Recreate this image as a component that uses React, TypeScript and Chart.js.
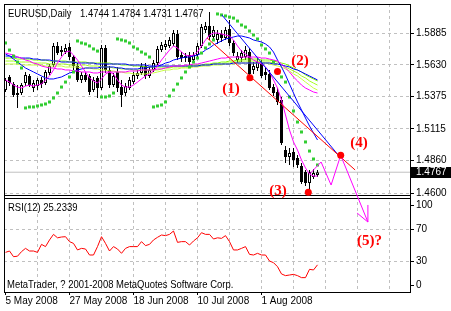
import React, { useEffect, useRef } from 'react';
import { Chart, registerables } from 'chart.js';

Chart.register(...registerables);

// ---------- text ----------
const TITLE_SYMBOL = 'EURUSD,Daily';
const TITLE_OHLC = '1.4744 1.4784 1.4731 1.4767';
const RSI_LABEL = 'RSI(12) 25.2339';
const COPYRIGHT = 'MetaTrader, ? 2001-2008 MetaQuotes Software Corp.';
const LAST_PRICE = 1.4767;

// ---------- axes ----------
const PRICE_TICKS = [1.5885, 1.563, 1.5375, 1.5115, 1.486, 1.46];
const RSI_TICKS = [0, 30, 70, 100];
const GRID_BARS = [0, 8, 16, 24, 32, 40, 48, 56, 64, 72, 80, 88, 96];
const DATE_LABEL_BARS = [0, 16, 32, 48, 64];
const DATE_LABELS = ['5 May 2008', '27 May 2008', '18 Jun 2008', '10 Jul 2008', '1 Aug 2008'];
const PRICE_MIN = 1.4576;
const PRICE_MAX = 1.6118;
const RSI_MIN = -8.75;
const RSI_MAX = 111.25;
const BAR_MIN = -0.375;
const BAR_MAX = 101.125;

// ---------- candles ----------
const OPEN = [1.5427,1.5532,1.5475,1.5403,1.5403,1.5483,1.554,1.5443,1.5459,1.5508,
1.5483,1.5564,1.5628,1.5781,1.5748,1.5732,1.5773,1.5692,1.562,1.5508,
1.5548,1.554,1.5427,1.5524,1.5443,1.5765,1.5588,1.5467,1.5572,1.5451,
1.5403,1.5443,1.5491,1.554,1.5564,1.562,1.554,1.5588,1.5644,1.5748,
1.5773,1.5781,1.5797,1.5877,1.5708,1.5684,1.5708,1.5668,1.5708,1.5781,
1.5909,1.5941,1.5853,1.5829,1.5877,1.5845,1.5917,1.5805,1.5668,1.5684,
1.5692,1.5732,1.5588,1.5604,1.5644,1.5572,1.5556,1.5451,1.5411,1.5347,
1.4945,1.4889,1.4929,1.4881,1.4817,1.4769,1.4681,1.4728,1.4744];
const HIGH = [1.5524,1.5548,1.5491,1.5467,1.5483,1.5572,1.5556,1.5508,1.5524,1.5532,
1.5588,1.5636,1.5805,1.5813,1.5781,1.5797,1.5805,1.5708,1.5644,1.5572,
1.5572,1.5556,1.5532,1.554,1.5789,1.5789,1.562,1.5564,1.5612,1.5508,
1.5483,1.5532,1.5572,1.5588,1.5644,1.5644,1.5612,1.5668,1.5781,1.5813,
1.5829,1.5853,1.5909,1.5909,1.5732,1.5724,1.5732,1.5732,1.5805,1.5957,
1.5973,1.6054,1.5941,1.5909,1.5909,1.5933,1.5989,1.5829,1.5732,1.5748,
1.5781,1.5765,1.5652,1.5684,1.5668,1.5604,1.5588,1.5475,1.5443,1.5371,
1.4978,1.4962,1.4962,1.4905,1.4841,1.4785,1.4785,1.4793,1.4784];
const LOW = [1.5411,1.5459,1.5371,1.5283,1.5387,1.5459,1.5451,1.5411,1.5427,1.5443,
1.5467,1.5548,1.5612,1.5708,1.57,1.5716,1.5668,1.5588,1.5491,1.5483,
1.5491,1.5387,1.5411,1.5363,1.5427,1.5564,1.5443,1.5451,1.5411,1.5291,
1.5379,1.5427,1.5475,1.5516,1.5548,1.5516,1.5524,1.5572,1.5628,1.5732,
1.5748,1.5765,1.5781,1.5668,1.5652,1.5652,1.5628,1.5652,1.5692,1.5765,
1.5885,1.5829,1.5829,1.5797,1.5813,1.5829,1.5781,1.57,1.5644,1.5652,
1.5668,1.5524,1.5556,1.558,1.5524,1.5508,1.5427,1.5379,1.5307,1.4986,
1.4841,1.4825,1.4809,1.4801,1.4673,1.4657,1.4608,1.4712,1.4731];
const CLOSE = [1.5508,1.5483,1.5387,1.5387,1.5467,1.5548,1.5467,1.5483,1.5508,1.5475,
1.5572,1.562,1.5781,1.5724,1.5732,1.5765,1.5692,1.562,1.5508,1.5548,
1.5508,1.5411,1.5508,1.5443,1.5765,1.5588,1.5467,1.554,1.5443,1.5387,
1.5459,1.5508,1.5548,1.5564,1.562,1.554,1.5588,1.5644,1.5757,1.5789,
1.5797,1.5829,1.5885,1.5692,1.5684,1.57,1.5652,1.5708,1.5781,1.5933,
1.5941,1.5853,1.5909,1.5877,1.5845,1.5909,1.5805,1.5724,1.57,1.5724,
1.5748,1.5556,1.562,1.5652,1.554,1.5548,1.5443,1.5403,1.5331,1.5002,
1.4889,1.4921,1.4865,1.4825,1.4689,1.4681,1.4769,1.4761,1.4767];

// ---------- indicators ----------
const MA_BLUE_SLOW = [1.57,1.57,1.5692,1.5692,1.5684,1.5684,1.5684,1.5676,1.5676,1.5668,
1.5668,1.5668,1.566,1.566,1.5652,1.5652,1.5652,1.5652,1.5644,1.5644,
1.5644,1.5644,1.5644,1.5636,1.5636,1.5636,1.5636,1.5636,1.5636,1.5636,
1.5636,1.5628,1.5628,1.5628,1.5628,1.5628,1.562,1.562,1.562,1.562,
1.562,1.562,1.562,1.562,1.562,1.562,1.562,1.562,1.562,1.5628,
1.5628,1.5628,1.5636,1.5636,1.5636,1.5636,1.5636,1.5644,1.5644,1.5644,
1.5644,1.5644,1.5644,1.5644,1.5644,1.5644,1.5644,1.5636,1.5636,1.5628,
1.562,1.5612,1.5596,1.5588,1.5572,1.5556,1.554,1.5524,1.5508];
const MA_BLUE_MID = [1.5716,1.57,1.5676,1.5652,1.5628,1.5604,1.5588,1.5572,1.5556,1.554,
1.5524,1.5516,1.5516,1.5524,1.5532,1.5548,1.5564,1.5572,1.5588,1.5596,
1.5604,1.5604,1.5604,1.5604,1.5612,1.5612,1.5612,1.5612,1.5604,1.5604,
1.5596,1.5596,1.5596,1.5596,1.5604,1.5604,1.5612,1.5612,1.562,1.5628,
1.5644,1.5652,1.5668,1.5676,1.5684,1.5692,1.5692,1.57,1.5708,1.5724,
1.5748,1.5765,1.5789,1.5805,1.5821,1.5837,1.5845,1.5853,1.5861,1.5861,
1.5853,1.5845,1.5829,1.5821,1.5813,1.5797,1.5773,1.5732,1.5668,1.5612,
1.5548,1.5475,1.5403,1.5331,1.5267,1.5202,1.5138,1.5082,1.5026];
const MA_MAGENTA_FAST = [1.5508,1.5491,1.5467,1.5451,1.5443,1.5459,1.5467,1.5459,1.5467,1.5475,
1.5508,1.554,1.5588,1.5644,1.5692,1.5732,1.574,1.5708,1.5668,1.562,
1.5572,1.5524,1.55,1.5483,1.5516,1.5556,1.5572,1.5556,1.5508,1.5467,
1.5451,1.5451,1.5467,1.5491,1.5516,1.554,1.5556,1.558,1.562,1.5668,
1.5708,1.5748,1.5781,1.5765,1.5732,1.5708,1.57,1.5708,1.5732,1.5781,
1.5829,1.5869,1.5885,1.5885,1.5877,1.5869,1.5861,1.5829,1.5781,1.574,
1.5716,1.5692,1.5668,1.5652,1.5636,1.5612,1.5572,1.5508,1.5443,1.5347,
1.5227,1.5106,1.501,1.4945,1.4865,1.4801,1.4752,1.4736,1.4736];
const MA_MAGENTA_SLOW = [1.5724,1.5716,1.5708,1.5692,1.5684,1.5668,1.566,1.5644,1.5636,1.562,
1.5612,1.5604,1.5604,1.5596,1.5596,1.5588,1.5588,1.558,1.558,1.5572,
1.5572,1.5572,1.5564,1.5564,1.5572,1.5572,1.5572,1.5572,1.5572,1.5572,
1.5572,1.558,1.558,1.558,1.5588,1.5588,1.5588,1.5588,1.5596,1.5596,
1.5604,1.5612,1.562,1.562,1.562,1.5628,1.5628,1.5636,1.5636,1.5644,
1.5652,1.566,1.5668,1.5676,1.5684,1.5684,1.5692,1.5692,1.5692,1.5692,
1.5692,1.5692,1.5692,1.5692,1.5684,1.5684,1.5676,1.5668,1.566,1.5636,
1.5604,1.5572,1.5532,1.55,1.5467,1.5443,1.5427,1.5411,1.5403];
const MA_GREEN_1 = [1.5684,1.5684,1.5684,1.5676,1.5676,1.5676,1.5676,1.5668,1.5668,1.5668,
1.5668,1.566,1.566,1.566,1.566,1.566,1.5652,1.5652,1.5652,1.5652,
1.5652,1.5644,1.5644,1.5644,1.5644,1.5644,1.5644,1.5636,1.5636,1.5628,
1.5628,1.5628,1.562,1.562,1.562,1.5612,1.5612,1.5612,1.5612,1.5612,
1.5612,1.5612,1.562,1.562,1.562,1.562,1.562,1.5628,1.5628,1.5628,
1.5636,1.5636,1.5644,1.5644,1.5652,1.5652,1.566,1.566,1.5668,1.5668,
1.5676,1.5676,1.5676,1.5676,1.5668,1.5668,1.5668,1.566,1.5652,1.5644,
1.5636,1.562,1.5604,1.5588,1.5572,1.5548,1.5532,1.5516,1.55];
const MA_GREEN_2 = [1.566,1.566,1.566,1.5652,1.5652,1.5652,1.5652,1.5644,1.5644,1.5644,
1.5644,1.5636,1.5636,1.5636,1.5636,1.5636,1.5628,1.5628,1.5628,1.5628,
1.5628,1.562,1.562,1.562,1.5612,1.5612,1.5612,1.5604,1.5604,1.5596,
1.5596,1.5596,1.5588,1.5588,1.5588,1.5588,1.5588,1.5588,1.5588,1.5596,
1.5604,1.5604,1.5612,1.5612,1.5612,1.5612,1.5612,1.562,1.562,1.562,
1.5628,1.5628,1.5636,1.5636,1.5636,1.5644,1.5644,1.5652,1.5652,1.566,
1.566,1.566,1.566,1.566,1.5652,1.5652,1.5652,1.5644,1.5636,1.5628,
1.5612,1.5596,1.558,1.5564,1.554,1.5524,1.55,1.5483,1.5467];
const MA_GREEN_3 = [1.5636,1.5636,1.5636,1.5636,1.5628,1.5628,1.5628,1.5628,1.5628,1.5628,
1.562,1.562,1.562,1.562,1.562,1.5612,1.5612,1.5612,1.5612,1.5604,
1.5604,1.5604,1.5596,1.5596,1.5588,1.5588,1.558,1.558,1.5572,1.5572,
1.5564,1.5564,1.5556,1.5556,1.5556,1.5556,1.5564,1.5564,1.5572,1.558,
1.5588,1.5588,1.5596,1.5596,1.5604,1.5604,1.5604,1.5612,1.5612,1.562,
1.562,1.562,1.5628,1.5628,1.5628,1.5636,1.5636,1.5636,1.5644,1.5644,
1.5644,1.5644,1.5644,1.5644,1.5644,1.5644,1.5636,1.5628,1.562,1.5612,
1.5596,1.558,1.5556,1.554,1.5516,1.5491,1.5467,1.5443,1.5427];
const SAR = [1.5805,1.5748,1.57,1.5652,1.5604,1.5283,1.5291,1.5291,1.5299,1.5307,
1.5315,1.5331,1.5363,1.5403,1.5451,1.5491,1.5532,1.5572,1.5821,1.5805,
1.5797,1.5781,1.5757,1.574,1.5371,1.5371,1.5379,1.5403,1.5837,1.5829,
1.5821,1.5805,1.5773,1.5757,1.5732,1.5716,1.5692,1.5291,1.5299,1.5307,
1.5331,1.5379,1.5427,1.5475,1.5524,1.5572,1.5612,1.5652,1.5684,1.5724,
1.5765,1.5797,1.5829,1.6038,1.603,1.6022,1.6013,1.6005,1.5981,1.5949,
1.5933,1.5901,1.5869,1.5837,1.5789,1.5757,1.5724,1.5652,1.5572,1.5532,
1.5491,1.5371,1.5259,1.517,1.509,1.501,1.4937,1.4873,1.4825];
const RSI = [40.8,42.5,35.4,36,41.7,45.8,42.5,42.5,40.8,50.8,
48,56.3,63.3,59,60,60.4,54.2,52,43.8,45.8,
45,37.5,37.5,48,60.4,52,42.5,48,45,39.6,
45.8,48,48,48,54.2,49.2,50.8,56.3,59.6,62.5,
61.7,63.3,67.5,53.3,54.2,54.2,50,55,59,65.4,
63.3,63.3,57.5,59,58.3,61.7,54.2,43.8,43.8,45.8,
48,38.3,37.5,39.6,37.5,37.5,30,27.9,22.9,13.8,
11.7,12.5,13.3,11.7,9.2,9.2,19.6,18.8,25.2];

// ---------- hand-drawn wave markup ----------
const RED_TREND_BARS = [50.4, 87.4];
const RED_TREND_PRICES = [1.5845, 1.4785];
const BLUE_TREND_BARS = [54.1, 83.6];
const BLUE_TREND_PRICES = [1.603, 1.4889];
const PROJ_BARS = [76, 78.9, 81.4, 83.8, 90.6];
const PROJ_PRICES = [1.4752, 1.4849, 1.4664, 1.4903, 1.4367];
const ARROW_BARS = [87.9, 90.6, 90.6];
const ARROW_PRICES = [1.4439, 1.4367, 1.4504];
const WAVE_DOT_BARS = [61.1, 68, 75.7, 83.8];
const WAVE_DOT_PRICES = [1.5526, 1.5576, 1.4606, 1.4904];
const WAVE_TEXTS = ['(1)', '(2)', '(3)', '(4)', '(5)?'];
const WAVE_TEXT_BARS = [56.4, 73.6, 68.1, 88.4, 91];
const WAVE_TEXT_PRICES = [1.5435, 1.566, 1.4616, 1.5, 1.4215];

const FONT = "'Liberation Sans', Arial, sans-serif";
const GRID = '#c0c0c0';

export default function App() {
  const ref = useRef<HTMLCanvasElement>(null);

  useEffect(() => {
    document.body.style.margin = '0';
    const canvas = ref.current;
    if (!canvas) return;
    const idx = OPEN.map((_, i) => i);
    const series = (vals: number[]) => vals.map((v, i) => ({ x: i, y: v }));
    const pairs = (xs: number[], ys: number[]) => xs.map((x, i) => ({ x, y: ys[i] }));
    const line = (label: string, data: any[], color: string, order: number, extra: any = {}) => ({
      type: 'line', label, data, borderColor: color, backgroundColor: color, borderWidth: 1,
      pointRadius: 0, fill: false, tension: 0, order, yAxisID: 'y', ...extra,
    });

    const overlay = {
      id: 'mt4Overlay',
      beforeDatasetsDraw(chart: any) {
        const { ctx, chartArea } = chart;
        const yP = chart.scales.y;
        const w = chartArea.right - chartArea.left;
        const b = Math.round(yP.bottom);
        ctx.save();
        ctx.fillStyle = '#ffffff';
        ctx.fillRect(chartArea.left, b - 1, w, 4);
        ctx.fillStyle = '#000000';
        ctx.fillRect(chartArea.left, b - 1, w, 1);
        ctx.fillRect(chartArea.left, b + 2, w, 1);
        ctx.restore();
      },
      afterDraw(chart: any) {
        const { ctx, chartArea } = chart;
        const xS = chart.scales.x;
        const yP = chart.scales.y;
        const narrow = (text: string, x: number, y: number) => {
          ctx.save();
          ctx.translate(x, y);
          ctx.scale(0.86, 1);
          ctx.fillText(text, 0, 0);
          ctx.restore();
        };
        ctx.save();
        ctx.fillStyle = '#000000';
        ctx.fillRect(chartArea.left, chartArea.top, chartArea.right - chartArea.left, 1);
        ctx.fillRect(chartArea.left, chartArea.top, 1, chartArea.bottom - chartArea.top);

        ctx.font = `11px ${FONT}`;
        ctx.textAlign = 'left';
        ctx.textBaseline = 'alphabetic';
        narrow(TITLE_SYMBOL, 8, 17);
        narrow(TITLE_OHLC, 80, 17);
        narrow(RSI_LABEL, 8, 211);
        narrow(COPYRIGHT, 7, 288);

        const py = Math.round(yP.getPixelForValue(LAST_PRICE));
        ctx.fillRect(chartArea.right + 1, py - 5, 40, 11);
        ctx.fillStyle = '#ffffff';
        ctx.font = `10px ${FONT}`;
        ctx.textBaseline = 'middle';
        ctx.fillText(LAST_PRICE.toFixed(4), chartArea.right + 6, py + 0.5);

        ctx.fillStyle = '#ff0000';
        ctx.font = "bold 15px 'Liberation Serif', 'Times New Roman', serif";
        ctx.textAlign = 'center';
        WAVE_TEXTS.forEach((t, i) => {
          ctx.fillText(t, xS.getPixelForValue(WAVE_TEXT_BARS[i]), yP.getPixelForValue(WAVE_TEXT_PRICES[i]));
        });
        ctx.restore();
      },
    };

    const chart = new Chart(canvas, {
      type: 'bar',
      data: {
        datasets: [
          line('last', [{ x: BAR_MIN, y: LAST_PRICE }, { x: BAR_MAX, y: LAST_PRICE }], '#c0c0c0', 100),
          {
            type: 'bar', label: 'wicks', data: idx.map((i) => ({ x: i, y: [LOW[i], HIGH[i]] })),
            backgroundColor: '#000000', borderWidth: 0, barThickness: 1, grouped: false,
            inflateAmount: 0, borderSkipped: false, order: 90, yAxisID: 'y',
          },
          {
            type: 'bar', label: 'bodies', data: idx.map((i) => ({ x: i, y: [OPEN[i], CLOSE[i]] })),
            backgroundColor: (c: any) => (CLOSE[c.dataIndex] >= OPEN[c.dataIndex] ? '#ffffff' : '#000000'),
            borderColor: '#000000', borderWidth: 1, barThickness: 3, grouped: false,
            inflateAmount: 0, borderSkipped: false, order: 80, yAxisID: 'y',
          },
          line('g3', series(MA_GREEN_3), '#c8ff40', 72),
          line('g2', series(MA_GREEN_2), '#a6ff1e', 71),
          line('g1', series(MA_GREEN_1), '#80ff00', 70),
          line('blueSlow', series(MA_BLUE_SLOW), '#0000ff', 66),
          line('blueMid', series(MA_BLUE_MID), '#0000ff', 65),
          line('magSlow', series(MA_MAGENTA_SLOW), '#ff00ff', 64),
          line('magFast', series(MA_MAGENTA_FAST), '#ff00ff', 63),
          line('sar', series(SAR), '#32cd32', 50, {
            showLine: false, pointStyle: 'rect', pointRadius: 2.13,
            pointBackgroundColor: '#32cd32', pointBorderWidth: 0,
          }),
          line('redTrend', pairs(RED_TREND_BARS, RED_TREND_PRICES), '#ff0000', 40),
          line('blueTrend', pairs(BLUE_TREND_BARS, BLUE_TREND_PRICES), '#0000ff', 41),
          line('projection', pairs(PROJ_BARS, PROJ_PRICES), '#ff00ff', 30, { clip: false }),
          line('arrow', pairs(ARROW_BARS, ARROW_PRICES), '#ff00ff', 30, { clip: false }),
          line('waveDots', pairs(WAVE_DOT_BARS, WAVE_DOT_PRICES), '#ff0000', 20, {
            showLine: false, pointRadius: 3.5, pointBackgroundColor: '#ff0000', pointBorderWidth: 0,
          }),
          line('rsi', series(RSI), '#ff0000', 10, { yAxisID: 'yr' }),
        ] as any,
      },
      options: {
        responsive: false,
        animation: false,
        devicePixelRatio: 1,
        events: [],
        layout: { padding: { left: 4, top: 4, right: 0, bottom: 0 } },
        plugins: { legend: { display: false }, tooltip: { enabled: false }, title: { display: false } },
        scales: {
          x: {
            type: 'linear', position: 'bottom', min: BAR_MIN, max: BAR_MAX, offset: false,
            afterBuildTicks: (s: any) => { s.ticks = GRID_BARS.map((v) => ({ value: v })); },
            afterFit: (s: any) => { s.height = 19; s.paddingLeft = 0; s.paddingRight = 0; },
            ticks: {
              autoSkip: false, maxRotation: 0, minRotation: 0, align: 'start', padding: 0,
              color: '#000000', font: { family: FONT, size: 10 },
              callback: (v: any) => {
                const k = DATE_LABEL_BARS.indexOf(Number(v));
                return k >= 0 ? DATE_LABELS[k] : '';
              },
            },
            grid: {
              color: (c: any) => (c.tick && c.tick.value === 0 ? 'rgba(0,0,0,0)' : GRID),
              lineWidth: 1, drawTicks: true, tickLength: 3, tickWidth: 1, offset: false,
              tickColor: (c: any) => (c.tick && DATE_LABEL_BARS.includes(c.tick.value) ? '#000000' : 'rgba(0,0,0,0)'),
            },
            border: { display: true, color: '#000000', width: 1, dash: [3, 3] },
          },
          y: {
            type: 'linear', position: 'right', axis: 'y', stack: 'panes', stackWeight: 2, weight: 0,
            min: PRICE_MIN, max: PRICE_MAX, beginAtZero: false, offset: false,
            afterBuildTicks: (s: any) => { s.ticks = PRICE_TICKS.map((v) => ({ value: v })); },
            afterFit: (s: any) => { s.width = 41; s.paddingTop = 0; s.paddingBottom = 0; },
            ticks: { padding: 2, color: '#000000', font: { family: FONT, size: 10 }, callback: (v: any) => Number(v).toFixed(4) },
            grid: { color: GRID, tickLength: 4, tickColor: '#000000' },
            border: { display: true, color: '#000000', width: 1, dash: [3, 3] },
          },
          yr: {
            type: 'linear', position: 'right', axis: 'y', stack: 'panes', stackWeight: 1, weight: 1,
            min: RSI_MIN, max: RSI_MAX, beginAtZero: false, offset: false,
            afterBuildTicks: (s: any) => { s.ticks = RSI_TICKS.map((v) => ({ value: v })); },
            afterFit: (s: any) => { s.width = 41; s.paddingTop = 0; s.paddingBottom = 0; },
            ticks: { padding: 2, color: '#000000', font: { family: FONT, size: 10 }, callback: (v: any) => String(v) },
            grid: {
              color: (c: any) => (c.tick && (c.tick.value === 30 || c.tick.value === 70) ? GRID : 'rgba(0,0,0,0)'),
              tickLength: 4, tickColor: '#000000',
            },
            border: { display: true, color: '#000000', width: 1, dash: [3, 3] },
          },
        },
      } as any,
      plugins: [overlay],
    });
    return () => chart.destroy();
  }, []);

  return (
    <div style={{ width: 451, height: 311, background: '#ffffff' }}>
      <canvas ref={ref} width={451} height={311} style={{ display: 'block', width: 451, height: 311 }} />
    </div>
  );
}
